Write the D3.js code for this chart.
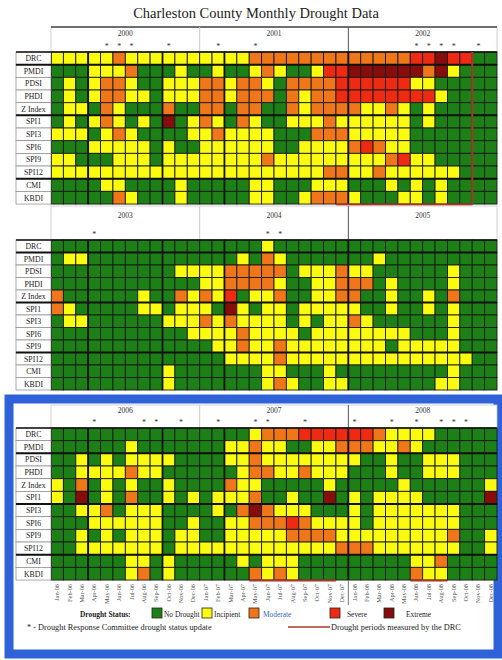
<!DOCTYPE html>
<html>
<head>
<meta charset="utf-8">
<script src="https://cdn.jsdelivr.net/npm/d3@7"></script>
<style>
  body { margin: 0; background: #fff; }
  svg { display: block; }
  text { font-family: "Liberation Serif", "DejaVu Serif", serif; }
</style>
</head>
<body>
<svg id="chart" width="502" height="660"></svg>
<script>
// ---- data -------------------------------------------------------------
const monthNames = ["Jan","Feb","Mar","Apr","May","Jun","Jul","Aug","Sep","Oct","Nov","Dec"];
const rowLabels = ["DRC","PMDI","PDSI","PHDI","Z Index","SPI1","SPI3","SPI6","SPI9","SPI12","CMI","KBDI"];
const statusNames = ["No Drought","Incipient","Moderate","Severe","Extreme"];
const statusCodes = [0, 1, 2, 3, 4];

// status codes per month: 0 none, 1 incipient, 2 moderate, 3 severe, 4 extreme
const years2000_2002 = [2000, 2001, 2002];
const status2000_2002 = [
  "111112111111111122222222222223343300",
  "000111200010010012100133444444241000",
  "010122100111221221022223333331100000",
  "010122110111221222021223333333310000",
  "011021000200220220021222211210100000",
  "010121010401210210011121111110100000",
  "111012100001121111000222111110000000",
  "000111110100111111001111232110000000",
  "110001110111111112111111111231100000",
  "111111111111111111111122112111111000",
  "000011000010000011000111000101010000",
  "000002100010000011001222100011010000"
];
const updates2000_2002 = [4, 5, 6, 9, 13, 16, 29, 30, 31, 32, 34];
const drought2000_2002 = [[23, 34]];

const years2003_2005 = [2003, 2004, 2005];
const status2003_2005 = [
  "000000000000000001000000000000000000",
  "011000000000000102100000001000000000",
  "000000000011112222201112110000001000",
  "000000000000112222100112220100001000",
  "200000010021213011200112200100102000",
  "210000011011104101101111100100101000",
  "011000000111212111101011210000001000",
  "000000000001111211110111111110001000",
  "000000000000011211211111111011111000",
  "000000000000001111211111111111111100",
  "000000000100000001100010000000001000",
  "000000000100000001210011000000011000"
];
const updates2003_2005 = [3, 17, 18];
const drought2003_2005 = [];

const years2006_2008 = [2006, 2007, 2008];
const status2006_2008 = [
  "000000000000000012223333332111100000",
  "000000100000001121100112221121000000",
  "001010111100001121111111100100111000",
  "001111211000000122112111000100111000",
  "102010100100002110000010000010000001",
  "104010200101011120010040101111000004",
  "001120111000010242111000101111111000",
  "000111111001001122232111101111111000",
  "001010111011001111122221111111112001",
  "001111111011111111111112221111111001",
  "000000110100000101110000000001120000",
  "000000120100000021210000000002110000"
];
const updates2006_2008 = [3, 7, 8, 10, 13, 16, 17, 20, 24, 27, 29, 31, 32, 33];
const drought2006_2008 = [[16, 23], [29, 32]];

// ---- styling ----------------------------------------------------------
const statusColors = ["#1d8016", "#fbfb10", "#ef7619", "#ee2b12", "#870c0c"];
const color = d3.scaleOrdinal().domain(statusCodes).range(statusColors);
const droughtLineColor = "#a8362c";

const svg = d3.select("#chart");

const gridLeft = 51, gridRight = 497, labelLeft = 16;
const x = d3.scaleBand().domain(d3.range(36)).range([gridLeft, gridRight]).paddingInner(0);

const panels = [
  { years: years2000_2002, status: status2000_2002, updates: updates2000_2002, drought: drought2000_2002,
    headerTop: 27, gridTop: 52, rowH: 12.67, breaks: [1, 5, 10], topRule: true, endMark: true },
  { years: years2003_2005, status: status2003_2005, updates: updates2003_2005, drought: drought2003_2005,
    headerTop: 206, gridTop: 240, rowH: 12.5, breaks: [1, 5, 9], topRule: false, endMark: false },
  { years: years2006_2008, status: status2006_2008, updates: updates2006_2008, drought: drought2006_2008,
    headerTop: 405, gridTop: 428, rowH: 12.67, breaks: [2, 6, 10], topRule: false, endMark: false, framed: true }
];
const thickCols = [3, 9, 14, 24];

// title
svg.append("text")
  .attr("x", 256).attr("y", 18)
  .attr("text-anchor", "middle")
  .attr("font-size", 14.5)
  .attr("fill", "#222")
  .text("Charleston County Monthly Drought Data");

// highlighted frame around the last panel
svg.append("rect")
  .attr("x", 9).attr("y", 399).attr("width", 489).attr("height", 255)
  .attr("fill", "#fff").attr("stroke", "#2f62d8").attr("stroke-width", 9);

panels.forEach(p => {
  const g = svg.append("g");
  const y = d3.scaleBand().domain(d3.range(rowLabels.length))
    .range([p.gridTop, p.gridTop + p.rowH * rowLabels.length]).paddingInner(0);
  const gridBottom = p.gridTop + p.rowH * rowLabels.length;

  // header: years and committee updates
  g.append("rect")
    .attr("x", gridLeft).attr("y", p.headerTop)
    .attr("width", gridRight - gridLeft).attr("height", p.gridTop - p.headerTop)
    .attr("fill", "#fff").attr("stroke", "#c8c8c8").attr("stroke-width", 0.8);
  if (p.topRule) {
    g.append("line").attr("x1", gridLeft).attr("x2", gridRight)
      .attr("y1", p.headerTop).attr("y2", p.headerTop)
      .attr("stroke", "#444").attr("stroke-width", 1.6);
  }
  p.years.forEach((yr, i) => {
    const x0 = x(i * 12);
    if (i > 0) {
      g.append("line").attr("x1", x0).attr("x2", x0)
        .attr("y1", p.headerTop).attr("y2", p.gridTop)
        .attr("stroke", i === 2 ? "#555" : "#ccc").attr("stroke-width", 1);
    }
    g.append("text")
      .attr("x", x0 + x.bandwidth() * 6)
      .attr("y", p.headerTop + (p.gridTop - p.headerTop) * 0.34)
      .attr("text-anchor", "middle")
      .attr("font-size", 7.5)
      .attr("fill", "#333")
      .text(yr);
  });
  g.selectAll("text.upd").data(p.updates).join("text")
    .attr("class", "upd")
    .attr("x", d => x(d) + x.bandwidth() / 2)
    .attr("y", p.gridTop - 3)
    .attr("text-anchor", "middle")
    .attr("font-size", 8)
    .attr("fill", "#333")
    .text("*");

  // cells
  const cells = [];
  p.status.forEach((row, r) => {
    row.split("").forEach((ch, c) => cells.push({ r, c, v: +ch }));
  });
  g.selectAll("rect.cell").data(cells).join("rect")
    .attr("class", "cell")
    .attr("x", d => x(d.c)).attr("y", d => y(d.r))
    .attr("width", x.bandwidth()).attr("height", y.bandwidth())
    .attr("fill", d => color(d.v))
    .attr("stroke", "#1a1a1a").attr("stroke-width", 0.9);

  // heavier dividers
  thickCols.forEach(c => {
    g.append("line").attr("x1", x(c)).attr("x2", x(c))
      .attr("y1", p.gridTop).attr("y2", gridBottom)
      .attr("stroke", "#111").attr("stroke-width", 1.8);
  });
  g.append("line").attr("x1", gridLeft).attr("x2", gridLeft)
    .attr("y1", p.gridTop).attr("y2", gridBottom)
    .attr("stroke", "#111").attr("stroke-width", 1.8);

  // row labels
  rowLabels.forEach((lab, r) => {
    g.append("rect")
      .attr("x", labelLeft).attr("y", y(r))
      .attr("width", gridLeft - labelLeft).attr("height", y.bandwidth())
      .attr("fill", "#fff").attr("stroke", "#888").attr("stroke-width", 0.7);
    g.append("text")
      .attr("x", (labelLeft + gridLeft) / 2)
      .attr("y", y(r) + y.bandwidth() / 2 + 2.8)
      .attr("text-anchor", "middle")
      .attr("font-size", 7.8)
      .attr("fill", "#222")
      .text(lab);
  });
  p.breaks.forEach(b => {
    g.append("line").attr("x1", labelLeft).attr("x2", gridRight)
      .attr("y1", y(b)).attr("y2", y(b))
      .attr("stroke", "#111").attr("stroke-width", 2);
  });
  g.append("line").attr("x1", labelLeft).attr("x2", gridRight)
    .attr("y1", p.gridTop).attr("y2", p.gridTop)
    .attr("stroke", "#111").attr("stroke-width", 1.6);

  // drought periods recorded by the committee
  p.drought.forEach(([s, e]) => {
    g.append("line").attr("x1", x(s)).attr("x2", x(e))
      .attr("y1", gridBottom + 0.5).attr("y2", gridBottom + 0.5)
      .attr("stroke", droughtLineColor).attr("stroke-width", 2);
    if (p.endMark) {
      g.append("line").attr("x1", x(e)).attr("x2", x(e))
        .attr("y1", p.gridTop).attr("y2", gridBottom)
        .attr("stroke", droughtLineColor).attr("stroke-width", 2);
    }
  });

  // month axis under the framed panel
  if (p.framed) {
    const monthLabels = [];
    p.years.forEach(yr => monthNames.forEach(m => monthLabels.push(m + "-" + String(yr).slice(2))));
    g.selectAll("text.mon").data(monthLabels).join("text")
      .attr("class", "mon")
      .attr("transform", (d, i) => `translate(${x(i) + x.bandwidth() / 2 + 2},${gridBottom + 4}) rotate(-90)`)
      .attr("text-anchor", "end")
      .attr("font-size", 6.3)
      .attr("fill", "#555")
      .text(d => d);
    g.append("line").attr("x1", x(24)).attr("x2", x(24))
      .attr("y1", gridBottom).attr("y2", gridBottom + 25)
      .attr("stroke", "#777").attr("stroke-width", 1);
  }
});

// legend
const legY = 613;
const legFont = 7.4;
const leg = svg.append("g");
leg.append("text").attr("x", 80).attr("y", legY + 3.5).attr("font-size", legFont)
  .attr("font-weight", "bold").attr("fill", "#222").text("Drought Status:");
const legItems = [
  { code: 0, bx: 152, tx: 164 },
  { code: 1, bx: 202, tx: 214 },
  { code: 2, bx: 249, tx: 263 },
  { code: 3, bx: 330, tx: 347 },
  { code: 4, bx: 384, tx: 406 }
];
legItems.forEach(it => {
  leg.append("rect").attr("x", it.bx).attr("y", legY - 5).attr("width", 10).attr("height", 10)
    .attr("fill", color(it.code)).attr("stroke", "#222").attr("stroke-width", 0.8);
  leg.append("text").attr("x", it.tx).attr("y", legY + 3.5).attr("font-size", legFont)
    .attr("fill", it.code === 2 ? "#3a5fc8" : "#222")
    .text(statusNames[it.code]);
});
leg.append("text").attr("x", 27).attr("y", 630).attr("font-size", 8.3).attr("fill", "#222")
  .text("* - Drought Response Committee drought status update");
leg.append("line").attr("x1", 288).attr("x2", 330).attr("y1", 627).attr("y2", 627)
  .attr("stroke", droughtLineColor).attr("stroke-width", 1.6);
leg.append("text").attr("x", 331).attr("y", 630).attr("font-size", 8.3).attr("fill", "#222")
  .text("Drought periods measured by the DRC");
</script>
</body>
</html>
